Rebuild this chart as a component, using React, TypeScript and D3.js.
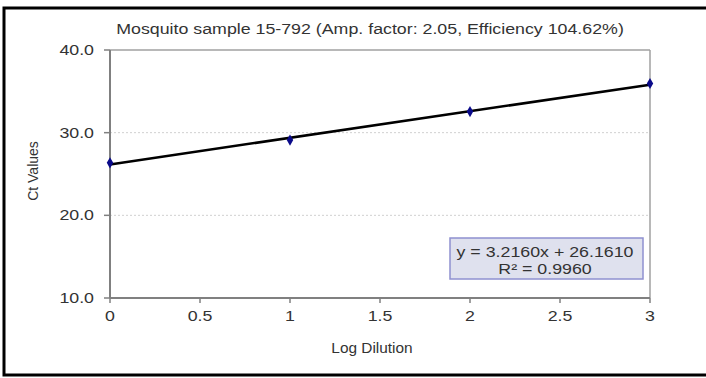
import React from "react";
import * as d3 from "d3";

// Standard-curve data: log dilution vs. measured Ct
const logDilution = [0, 1, 2, 3];
const ctValues = [26.35, 29.1, 32.55, 35.95];

// Fitted trendline reported on the chart
const slope = 3.216;
const intercept = 26.161;
const equationLines = ["y = 3.2160x + 26.1610", "R\u00B2 = 0.9960"];

const xTicks = [0, 0.5, 1, 1.5, 2, 2.5, 3];
const yTicks = [10, 20, 30, 40];
const yGrid = [20, 30];

const titleText = "Mosquito sample 15-792 (Amp. factor: 2.05, Efficiency 104.62%)";
const xTitle = "Log Dilution";
const yTitle = "Ct Values";

const W = 706;
const H = 378;
const plot = { left: 110, right: 650, top: 50, bottom: 298 };
const font = "Arial, 'Liberation Sans', sans-serif";
const textColor = "#333";
const stretch = 1.27;

type LabelProps = {
  x: number;
  y: number;
  anchor: "start" | "middle" | "end";
  size: number;
  sx?: number;
  children: React.ReactNode;
};

// Text that is widened horizontally about its anchor point
function Label({ x, y, anchor, size, sx = stretch, children }: LabelProps) {
  return (
    <g transform={`translate(${x},${y}) scale(${sx},1)`}>
      <text x={0} y={0} dy="0.35em" textAnchor={anchor} fontSize={size} fill={textColor}>
        {children}
      </text>
    </g>
  );
}

export default function App() {
  const x = d3.scaleLinear().domain([0, 3]).range([plot.left, plot.right]);
  const y = d3.scaleLinear().domain([10, 40]).range([plot.bottom, plot.top]);

  const trend = d3
    .line<number>()
    .x((d) => x(d))
    .y((d) => y(slope * d + intercept));

  const diamond = d3.symbol().type(d3.symbolDiamond).size(36)();

  return (
    <svg
      width={W}
      height={H}
      style={{ position: "absolute", left: 0, top: 0, background: "#fff" }}
      fontFamily={font}
    >
      <rect x={0} y={0} width={W} height={H} fill="#fff" />
      {/* outer frame */}
      <rect x={4} y={8} width={W + 10} height={367} fill="none" stroke="#000" strokeWidth={3} />

      <Label x={370} y={29} anchor="middle" size={14}>
        {titleText}
      </Label>

      {/* gridlines */}
      {yGrid.map((v) => (
        <line
          key={v}
          x1={plot.left}
          x2={plot.right}
          y1={y(v)}
          y2={y(v)}
          stroke="#d0d0d0"
          strokeWidth={1}
          strokeDasharray="2,2"
        />
      ))}

      {/* plot-area border (top & right) */}
      <line x1={plot.left} x2={plot.right} y1={plot.top} y2={plot.top} stroke="#a0a0a0" strokeWidth={1.5} />
      <line x1={plot.right} x2={plot.right} y1={plot.top} y2={plot.bottom} stroke="#a0a0a0" strokeWidth={1.5} />

      {/* axes */}
      <line x1={plot.left} x2={plot.left} y1={plot.top} y2={plot.bottom} stroke="#808080" strokeWidth={2} />
      <line x1={plot.left} x2={plot.right} y1={plot.bottom} y2={plot.bottom} stroke="#808080" strokeWidth={2} />

      {yTicks.map((v) => (
        <g key={v}>
          <line x1={plot.left - 6} x2={plot.left} y1={y(v)} y2={y(v)} stroke="#808080" strokeWidth={1.5} />
          <Label x={94} y={y(v)} anchor="end" size={14}>
            {v.toFixed(1)}
          </Label>
        </g>
      ))}

      {xTicks.map((v) => (
        <g key={v}>
          <line x1={x(v)} x2={x(v)} y1={plot.bottom} y2={plot.bottom + 5} stroke="#808080" strokeWidth={1.5} />
          <Label x={x(v)} y={316} anchor="middle" size={14}>
            {String(v)}
          </Label>
        </g>
      ))}

      <Label x={372} y={348} anchor="middle" size={14} sx={1.1}>
        {xTitle}
      </Label>
      <g transform={`translate(33,171) rotate(-90)`}>
        <text dy="0.35em" textAnchor="middle" fontSize={14} fill={textColor}>
          {yTitle}
        </text>
      </g>

      {/* fitted trendline */}
      <path d={trend([0, 3]) ?? ""} fill="none" stroke="#000" strokeWidth={2.5} />

      {/* data points */}
      {logDilution.map((d, i) => (
        <path key={i} d={diamond ?? ""} transform={`translate(${x(d)},${y(ctValues[i])})`} fill="#0a0a8a" />
      ))}

      {/* equation box */}
      <rect x={450} y={238} width={193} height={41} fill="#dfe1ee" stroke="#8f90d0" strokeWidth={1.5} />
      {equationLines.map((t, i) => (
        <Label key={i} x={545} y={252 + i * 17} anchor="middle" size={14}>
          {t}
        </Label>
      ))}
    </svg>
  );
}
